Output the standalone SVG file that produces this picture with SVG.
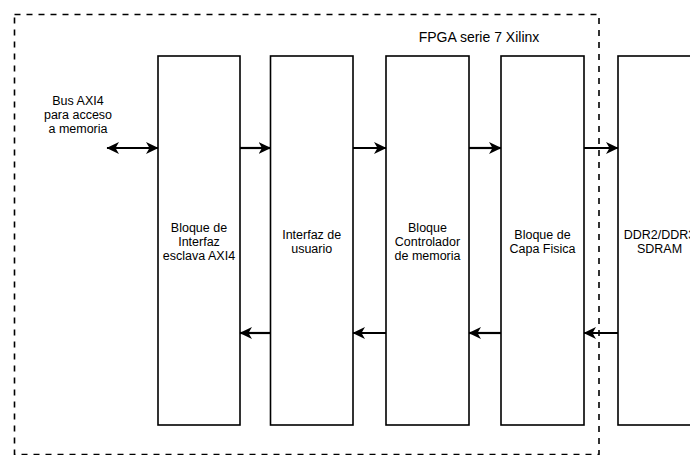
<svg xmlns="http://www.w3.org/2000/svg" width="690" height="455" viewBox="0 0 690 455">
  <style>
    .blk { fill: #ffffff; stroke: #000000; stroke-width: 1.6; }
    .frame { fill: none; stroke: #000000; stroke-width: 1.6; stroke-dasharray: 6 6; }
    .lbl { font-family: "Liberation Sans", Arial, sans-serif; font-size: 12.5px; fill: #000000; text-anchor: middle; }
    .title { font-family: "Liberation Sans", Arial, sans-serif; font-size: 14px; fill: #000000; text-anchor: middle; }
    .wire { fill: none; stroke: #000000; stroke-width: 2.2; }
  </style>
  <defs>
    <marker id="head" markerUnits="userSpaceOnUse" viewBox="0 0 13 13" refX="12" refY="6.5" markerWidth="13" markerHeight="13" orient="auto-start-reverse">
      <path d="M0,0.5 L12.5,6.5 L0,12.5 L3.5,6.5 Z" fill="#000000"/>
    </marker>
  </defs>

  <rect width="690" height="455" fill="#ffffff"/>

  <!-- FPGA boundary -->
  <g id="fpga">
    <rect class="frame" x="14.5" y="14.5" width="584.5" height="440"/>
    <text class="title" x="479" y="41.5">FPGA serie 7 Xilinx</text>
  </g>

  <g id="bus-label">
    <text class="lbl" x="78" y="105">Bus AXI4</text>
    <text class="lbl" x="78" y="119">para acceso</text>
    <text class="lbl" x="78" y="133">a memoria</text>
  </g>

  <g id="axi-slave">
    <rect class="blk" x="158" y="56" width="82" height="369"/>
    <text class="lbl" x="199" y="231.5">Bloque de</text>
    <text class="lbl" x="199" y="245.5">Interfaz</text>
    <text class="lbl" x="199" y="259.5">esclava AXI4</text>
  </g>

  <g id="user-if">
    <rect class="blk" x="270.5" y="56" width="82.5" height="369"/>
    <text class="lbl" x="311.7" y="238.5">Interfaz de</text>
    <text class="lbl" x="311.7" y="252.5">usuario</text>
  </g>

  <g id="mem-ctrl">
    <rect class="blk" x="386" y="56" width="83" height="369"/>
    <text class="lbl" x="427.5" y="231.5">Bloque</text>
    <text class="lbl" x="427.5" y="245.5">Controlador</text>
    <text class="lbl" x="427.5" y="259.5">de memoria</text>
  </g>

  <g id="phy">
    <rect class="blk" x="501" y="56" width="83" height="369"/>
    <text class="lbl" x="542.5" y="238.5">Bloque de</text>
    <text class="lbl" x="542.5" y="252.5">Capa Fisica</text>
  </g>

  <g id="sdram">
    <rect class="blk" x="618" y="56" width="83" height="369"/>
    <text class="lbl" x="659.5" y="238.5">DDR2/DDR3</text>
    <text class="lbl" x="659.5" y="252.5">SDRAM</text>
  </g>

  <!-- connectors -->
  <g id="connectors">
    <line class="wire" x1="107" y1="148" x2="158" y2="148" marker-start="url(#head)" marker-end="url(#head)"/>
    <line class="wire" x1="240" y1="148" x2="270.5" y2="148" marker-end="url(#head)"/>
    <line class="wire" x1="353" y1="148" x2="386" y2="148" marker-end="url(#head)"/>
    <line class="wire" x1="469" y1="148" x2="501" y2="148" marker-end="url(#head)"/>
    <line class="wire" x1="584" y1="148" x2="618" y2="148" marker-end="url(#head)"/>
    <line class="wire" x1="270.5" y1="333" x2="240" y2="333" marker-end="url(#head)"/>
    <line class="wire" x1="386" y1="333" x2="353" y2="333" marker-end="url(#head)"/>
    <line class="wire" x1="501" y1="333" x2="469" y2="333" marker-end="url(#head)"/>
    <line class="wire" x1="618" y1="333" x2="584" y2="333" marker-end="url(#head)"/>
  </g>
</svg>
